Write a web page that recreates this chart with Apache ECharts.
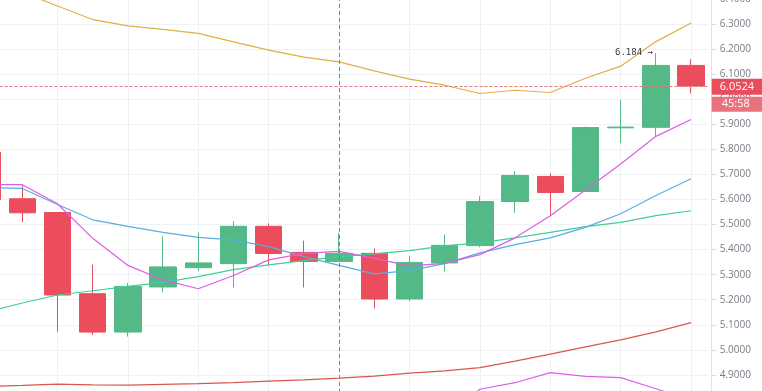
<!DOCTYPE html>
<html><head><meta charset="utf-8">
<script src="https://cdn.jsdelivr.net/npm/echarts@6/dist/echarts.min.js"></script>
<style>html,body{margin:0;padding:0;background:#fff;} #c{width:762px;height:391px;}</style>
</head><body><div id="c"></div>
<script>
// ---- data ----
const categories = ['b00','b01','b02','b03','b04','b05','b06','b07','b08','b09','b10','b11','b12','b13','b14','b15','b16','b17','b18','b19','b20'];
const openV  = [5.789, 5.603, 5.548, 5.224, 5.071, 5.251, 5.328, 5.344, 5.493, 5.389, 5.353, 5.385, 5.203, 5.347, 5.416, 5.592, 5.692, 5.632, 5.886, 5.888, 6.135];
const closeV = [5.600, 5.547, 5.219, 5.071, 5.253, 5.331, 5.347, 5.493, 5.385, 5.353, 5.385, 5.203, 5.349, 5.417, 5.592, 5.696, 5.628, 5.887, 5.889, 6.135, 6.0524];
const lowV   = [5.590, 5.509, 5.072, 5.059, 5.053, 5.229, 5.315, 5.249, 5.337, 5.249, 5.353, 5.165, 5.193, 5.313, 5.409, 5.547, 5.536, 5.632, 5.825, 5.852, 6.023];
const highV  = [5.800, 5.659, 5.549, 5.340, 5.267, 5.453, 5.468, 5.513, 5.505, 5.436, 5.467, 5.405, 5.375, 5.460, 5.613, 5.712, 5.704, 5.891, 5.997, 6.184, 6.160];
const maFast = [5.659, 5.659, 5.583, 5.445, 5.337, 5.279, 5.244, 5.297, 5.359, 5.385, 5.393, 5.365, 5.335, 5.345, 5.380, 5.447, 5.535, 5.638, 5.742, 5.852, 5.919];
const maMid  = [5.648, 5.644, 5.580, 5.519, 5.493, 5.469, 5.449, 5.439, 5.412, 5.372, 5.337, 5.303, 5.316, 5.344, 5.387, 5.420, 5.447, 5.489, 5.543, 5.616, 5.683];
const bbMid  = [5.152, 5.187, 5.219, 5.236, 5.253, 5.269, 5.292, 5.320, 5.339, 5.356, 5.372, 5.383, 5.396, 5.415, 5.427, 5.447, 5.469, 5.492, 5.509, 5.536, 5.555];
const bbUp   = [6.476, 6.427, 6.372, 6.318, 6.293, 6.279, 6.263, 6.229, 6.196, 6.168, 6.149, 6.113, 6.080, 6.056, 6.023, 6.036, 6.027, 6.084, 6.132, 6.230, 6.304];
const bbLow  = [3.830, 3.950, 4.070, 4.150, 4.210, 4.260, 4.320, 4.410, 4.480, 4.540, 4.600, 4.650, 4.700, 4.720, 4.843, 4.869, 4.909, 4.894, 4.889, 4.845, 4.800];
const maSlow = [4.854, 4.858, 4.863, 4.860, 4.859, 4.862, 4.865, 4.869, 4.875, 4.880, 4.887, 4.895, 4.907, 4.916, 4.929, 4.955, 4.983, 5.012, 5.040, 5.072, 5.109];
const lastPrice = 6.0524;
const countdown = '45:58';
const crossIndex = 10;
const peakIndex = 19;
const yTicks = {min: 4.8, max: 6.4, step: 0.1};

const UP = '#53b987', DOWN = '#eb4d5c';
const candleData = categories.map((c, i) => [openV[i], closeV[i], lowV[i], highV[i]]);

const chart = echarts.init(document.getElementById('c'), null, {renderer: 'canvas'});
const lineS = (name, data, color) => ({
  name, type: 'line', data, showSymbol: false, symbol: 'none', smooth: false, silent: true,
  lineStyle: {color, width: 1.2}, z: 3
});
chart.setOption({
  animation: false,
  textStyle: {fontFamily: 'Open Sans'},
  grid: {left: -30.5, right: 53.3, top: -1, bottom: -9, containLabel: false, outerBoundsMode: 'none'},
  xAxis: {
    type: 'category', data: categories, boundaryGap: true,
    axisLine: {show: false}, axisTick: {show: false}, axisLabel: {show: false},
    splitLine: {show: true, alignWithLabel: true, interval: (i) => i % 2 === 0, lineStyle: {color: '#eef1f6', width: 1}}
  },
  yAxis: {
    type: 'value', position: 'right', offset: 3,
    min: yTicks.min, max: yTicks.max, interval: yTicks.step,
    axisLine: {show: true, lineStyle: {color: '#e0e3eb'}},
    axisTick: {show: true, length: 4, lineStyle: {color: '#d6dae3'}},
    axisLabel: {color: '#787b86', fontSize: 10, margin: 8, formatter: v => v.toFixed(4)},
    splitLine: {show: true, lineStyle: {color: '#eef1f6', width: 1}}
  },
  series: [
    {
      type: 'candlestick', data: candleData, barWidth: 27, z: 2,
      itemStyle: {color: UP, color0: DOWN, borderColor: UP, borderColor0: DOWN, borderWidth: 1},
      markLine: {
        silent: true, symbol: 'none', animation: false,
        data: [
          {yAxis: lastPrice, lineStyle: {color: '#e27a83', type: [3, 2], width: 1},
           label: {show: true, position: 'end', distance: 3,
             formatter: '{e| }\n{a|' + lastPrice.toFixed(4) + '}\n{b|' + countdown + '}',
             rich: {
               e: {lineHeight: 17, height: 15, color: 'transparent', fontSize: 11},
               a: {backgroundColor: DOWN, color: '#fff', fontSize: 11, fontFamily: 'Open Sans', height: 16, lineHeight: 18, width: 44, padding: [0, 0, 0, 8]},
               b: {backgroundColor: '#ea727d', color: '#fff', fontSize: 11, fontFamily: 'Open Sans', height: 15, lineHeight: 17, width: 44, padding: [0, 0, 0, 10]}
             }}},
          {xAxis: categories[crossIndex], lineStyle: {color: '#758696', type: [4, 3], width: 1}, label: {show: false}}
        ]
      },
      markPoint: {
        silent: true, animation: false,
        data: [{coord: [categories[peakIndex], highV[peakIndex]], symbol: 'circle', symbolSize: 0,
          label: {show: true, position: 'left', distance: 3, formatter: highV[peakIndex].toFixed(3) + ' \u2192',
            fontFamily: 'DejaVu Sans Mono', fontSize: 9, color: '#3a3a3a'}}]
      }
    },
    lineS('maSlow', maSlow, '#d9574c'),
    lineS('bbLow', bbLow, '#dd5fe6'),
    lineS('bbUp', bbUp, '#e0b043'),
    lineS('bbMid', bbMid, '#3fcf99'),
    lineS('maMid', maMid, '#5aaede'),
    lineS('maFast', maFast, '#dd5fe6')
  ]
});
</script>
</body></html>
